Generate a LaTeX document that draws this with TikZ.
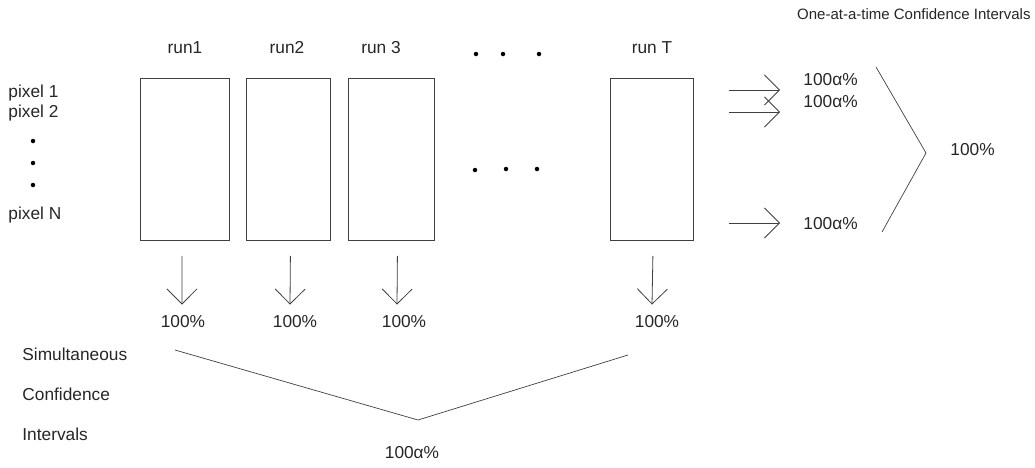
\documentclass[tikz,border=0pt]{standalone}
\usepackage{fontspec}
\setmainfont{Liberation Sans}
\usetikzlibrary{arrows.meta}
\begin{document}
\begin{tikzpicture}[x=1pt,y=-1pt,
  line width=0.8pt,
  ink/.style={draw=black!75},
  txt/.style={inner sep=0pt,font=\fontsize{17.3}{20}\selectfont,text=black!85},
  runbox/.style={ink,minimum height=162pt,inner sep=0pt},
  arr/.style={ink,-{Straight Barb[length=15pt,width=30pt,line width=0.8pt]}},
  dot/.style={fill=black,circle,inner sep=0pt,minimum size=4.5pt}]
\useasboundingbox (0,0) rectangle (1035,467);

% run columns
\node[runbox,minimum width=89pt,anchor=north west] (b1) at (140,78) {};
\node[runbox,minimum width=84pt,anchor=north west] (b2) at (246,78) {};
\node[runbox,minimum width=86pt,anchor=north west] (b3) at (348,78) {};
\node[runbox,minimum width=83pt,anchor=north west] (bT) at (610,78) {};

\node[txt,anchor=base] (r1) at (185,53) {run1};
\node[txt,anchor=base] (r2) at (287,53) {run2};
\node[txt,anchor=base] (r3) at (381,53) {run 3};
\node[txt,anchor=base] (rT) at (652,53) {run T};

% ellipsis between run 3 and run T
\node[dot] (d1) at (476,54) {};
\node[dot] (d2) at (503,54) {};
\node[dot] (d3) at (539,54) {};
\node[dot] (d4) at (475,170) {};
\node[dot] (d5) at (506,169) {};
\node[dot] (d6) at (537,169) {};

% pixel labels
\node[txt,anchor=base west] (px1) at (8,97) {pixel 1};
\node[txt,anchor=base west] (px2) at (8,117) {pixel 2};
\node[dot] (v1) at (33,141) {};
\node[dot] (v2) at (33,163) {};
\node[dot] (v3) at (33,185) {};
\node[txt,anchor=base west] (pxN) at (8,219) {pixel N};

% per-run simultaneous levels
\node[txt,anchor=base] (p1) at (183,327) {100\%};
\node[txt,anchor=base] (p2) at (295,327) {100\%};
\node[txt,anchor=base] (p3) at (404,327) {100\%};
\node[txt,anchor=base] (pT) at (657,327) {100\%};
\draw[arr] ([xshift=-3pt,yshift=-15pt]b1.south) -- ([xshift=-1pt,yshift=10pt]p1.north);
\draw[arr] ([xshift=2pt,yshift=-15pt]b2.south) -- ([xshift=-5pt,yshift=10pt]p2.north);
\draw[arr] ([xshift=6pt,yshift=-15pt]b3.south) -- ([xshift=-7pt,yshift=10pt]p3.north);
\draw[arr] ([xshift=1pt,yshift=-15pt]bT.south) -- ([xshift=-5pt,yshift=10pt]pT.north);

% one-at-a-time intervals
\node[txt,anchor=base east,font=\fontsize{15}{18}\selectfont] (title) at (1031,19) {One-at-a-time Confidence Intervals};
\node[txt,anchor=base west] (a1) at (803,85) {100α\%};
\node[txt,anchor=base west] (a2) at (803,107) {100α\%};
\node[txt,anchor=base west] (aN) at (803,229) {100α\%};
\coordinate (s1) at (729,90);
\coordinate (s2) at (729,112);
\coordinate (sN) at (729,223);
\draw[arr] (s1) -- ([xshift=-23pt]a1.west |- s1);
\draw[arr] (s2) -- ([xshift=-23pt]a2.west |- s2);
\draw[arr] (sN) -- ([xshift=-23pt]aN.west |- sN);

\node[txt,anchor=base west] (tot) at (950,155) {100\%};
\coordinate (k1) at (876,67);
\coordinate (k2) at (926,153);
\coordinate (k3) at (882,232);
\draw[ink,line width=0.7pt] (k1) -- (k2) -- (k3);

% simultaneous intervals
\node[txt,anchor=base west] (sim1) at (22,360) {Simultaneous};
\node[txt,anchor=base west] (sim2) at (22,400) {Confidence};
\node[txt,anchor=base west] (sim3) at (22,440) {Intervals};
\node[txt,anchor=base] (all) at (412,458) {100α\%};
\coordinate (m1) at (175,350);
\coordinate (m2) at (418,420);
\coordinate (m3) at (628,355);
\draw[ink,line width=0.7pt] (m1) -- (m2) -- (m3);
\end{tikzpicture}
\end{document}
